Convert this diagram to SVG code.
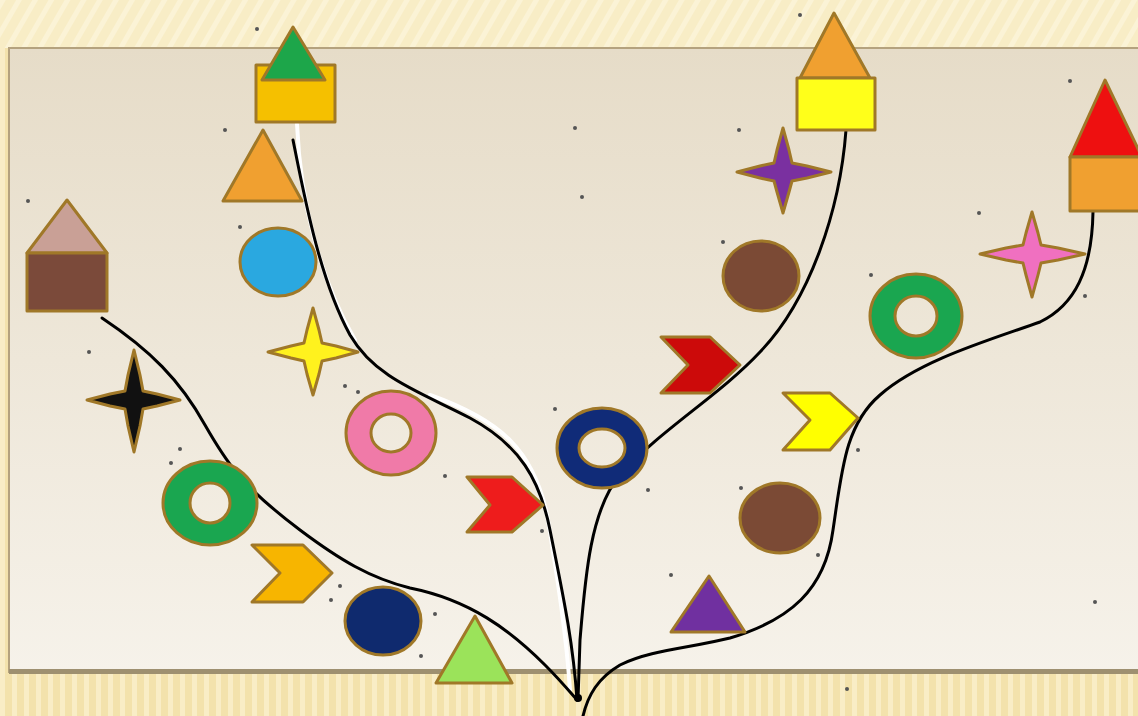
<svg xmlns="http://www.w3.org/2000/svg" width="1138" height="716" viewBox="0 0 1138 716">
<defs>
<pattern id="diag" width="14" height="14" patternUnits="userSpaceOnUse" patternTransform="rotate(30)">
<rect width="14" height="14" fill="#F8EDC6"/>
<rect width="5" height="14" fill="#FBF3D6"/>
</pattern>
<pattern id="vert" width="12" height="12" patternUnits="userSpaceOnUse">
<rect width="12" height="12" fill="#F3E2AC"/>
<rect width="5" height="12" fill="#F9EDC6"/>
</pattern>
<linearGradient id="panel" x1="0" y1="0" x2="0" y2="1">
<stop offset="0" stop-color="#E6DCC8"/>
<stop offset="1" stop-color="#F6F2EA"/>
</linearGradient>
<style>
.s{stroke:#A07828;stroke-width:3;stroke-linejoin:round}
.b{fill:none;stroke:#000;stroke-width:3;stroke-linecap:round}
.w{fill:none;stroke:#FFF;stroke-width:4;stroke-linecap:round}
.d{fill:#555}
</style>
</defs>
<rect width="1138" height="716" fill="url(#diag)"/>
<rect x="0" y="672" width="1138" height="44" fill="url(#vert)"/>
<rect x="0" y="48" width="9" height="628" fill="url(#vert)"/>
<rect x="9" y="48" width="1140" height="624" fill="url(#panel)" stroke="#B4A27E" stroke-width="2"/>
<rect x="9" y="669" width="1129" height="5" fill="#9E9070"/>

<g id="specks" class="d">
<circle cx="257" cy="29" r="2"/><circle cx="225" cy="130" r="2"/><circle cx="28" cy="201" r="2"/>
<circle cx="575" cy="128" r="2"/><circle cx="582" cy="197" r="2"/><circle cx="240" cy="227" r="2"/>
<circle cx="800" cy="15" r="2"/><circle cx="739" cy="130" r="2"/><circle cx="1070" cy="81" r="2"/>
<circle cx="979" cy="213" r="2"/><circle cx="1085" cy="296" r="2"/><circle cx="89" cy="352" r="2"/>
<circle cx="171" cy="463" r="2"/><circle cx="180" cy="449" r="2"/><circle cx="345" cy="386" r="2"/>
<circle cx="358" cy="392" r="2"/><circle cx="445" cy="476" r="2"/><circle cx="555" cy="409" r="2"/>
<circle cx="648" cy="490" r="2"/><circle cx="542" cy="531" r="2"/><circle cx="340" cy="586" r="2"/>
<circle cx="331" cy="600" r="2"/><circle cx="435" cy="614" r="2"/><circle cx="421" cy="656" r="2"/>
<circle cx="671" cy="575" r="2"/><circle cx="741" cy="488" r="2"/><circle cx="818" cy="555" r="2"/>
<circle cx="858" cy="450" r="2"/><circle cx="871" cy="275" r="2"/><circle cx="723" cy="242" r="2"/>
<circle cx="847" cy="689" r="2"/><circle cx="1095" cy="602" r="2"/>
</g>

<g id="connectors">
<path class="w" d="M297,124 C300,200 320,280 355,340"/>
<path class="w" d="M430,395 C500,420 535,450 548,520 C556,570 566,630 570,690"/>
<path class="b" d="M102,318 C150,350 180,380 205,425 C225,460 240,485 300,530 C340,560 370,578 410,588 C470,600 510,630 545,665 C560,680 570,692 577,700"/>
<path class="b" d="M293,140 C305,200 320,280 350,335 C375,378 420,392 470,418 C520,445 540,480 550,530 C562,590 573,640 577,700"/>
<path class="b" d="M846,130 C840,210 810,300 760,352 C720,395 660,430 620,475 C590,510 585,580 580,640 L578,700"/>
<path class="b" d="M1093,212 C1092,270 1075,305 1040,322 C990,340 920,360 880,395 C845,425 842,470 833,530 C825,590 790,620 730,638 C690,648 650,650 620,665 C598,678 588,695 583,716"/>
<circle cx="578" cy="698" r="4" fill="#000"/>
</g>

<g id="house-green">
<rect class="s" x="256" y="65" width="79" height="57" fill="#F5C000"/>
<polygon class="s" points="293,27 325,80 262,80" fill="#1DA64A"/>
</g>
<g id="house-brown">
<polygon class="s" points="67,200 107,253 27,253" fill="#C9A096"/>
<rect class="s" x="27" y="253" width="80" height="58" fill="#7B4A3A"/>
</g>
<g id="house-yellow">
<polygon class="s" points="834,13 870,78 800,78" fill="#F0A030"/>
<rect class="s" x="797" y="78" width="78" height="52" fill="#FFFF1A"/>
</g>
<g id="house-red">
<polygon class="s" points="1105,80 1142,157 1070,157" fill="#EE1010"/>
<rect class="s" x="1070" y="157" width="75" height="54" fill="#F0A030"/>
</g>

<g id="tri-orange"><polygon class="s" points="263,130 302,201 223,201" fill="#F0A030"/></g>
<g id="circle-blue"><ellipse class="s" cx="278" cy="262" rx="38" ry="34" fill="#2AA8E0"/></g>
<g id="star-yellow"><polygon class="s" points="268,352 291,346 304,343 307,330 313,308 319,330 322,343 336,346 358,352 336,358 322,361 319,374 313,395 307,374 304,361 291,358" fill="#FFF21E"/></g>
<g id="star-black"><polygon class="s" points="87,400 110,394 125,391 128,375 134,350 140,375 143,391 157,394 180,400 157,406 143,409 140,426 134,452 128,426 125,409 110,406" fill="#111"/></g>
<g id="ring-pink"><path class="s" fill-rule="evenodd" d="M346,433 a45,42 0 1,0 90,0 a45,42 0 1,0 -90,0 Z M371,433 a20,19 0 1,0 40,0 a20,19 0 1,0 -40,0 Z" fill="#F07AA8"/></g>
<g id="ring-green-left"><path class="s" fill-rule="evenodd" d="M163,503 a47,42 0 1,0 94,0 a47,42 0 1,0 -94,0 Z M190,503 a20,20 0 1,0 40,0 a20,20 0 1,0 -40,0 Z" fill="#1AA650"/></g>
<g id="chevron-gold"><polygon class="s" points="252,545 303,545 332,573 303,602 252,602 280,573" fill="#F7B500"/></g>
<g id="circle-navy"><ellipse class="s" cx="383" cy="621" rx="38" ry="34" fill="#0F2A6E"/></g>
<g id="tri-lightgreen"><polygon class="s" points="475,616 512,683 436,683" fill="#9BE35A"/></g>
<g id="chevron-red"><polygon class="s" points="467,477 512,477 543,505 512,532 467,532 490,505" fill="#EE1C1C"/></g>
<g id="ring-navy"><path class="s" fill-rule="evenodd" d="M557,448 a45,40 0 1,0 90,0 a45,40 0 1,0 -90,0 Z M579,448 a23,19 0 1,0 46,0 a23,19 0 1,0 -46,0 Z" fill="#102B78"/></g>
<g id="chevron-darkred"><polygon class="s" points="661,337 710,337 740,365 710,393 661,393 688,365" fill="#CC0A0A"/></g>
<g id="circle-brown-top"><ellipse class="s" cx="761" cy="276" rx="38" ry="35" fill="#7B4A35"/></g>
<g id="star-purple"><polygon class="s" points="737,172 760,166 774,163 777,150 783,128 789,150 792,163 807,166 831,172 807,178 792,181 789,192 783,213 777,192 774,181 760,178" fill="#7A30A0"/></g>
<g id="star-pink"><polygon class="s" points="980,254 1006,248 1023,245 1026,233 1032,212 1038,233 1041,245 1058,248 1085,254 1058,260 1041,263 1038,275 1032,297 1026,275 1023,263 1006,260" fill="#F070C0"/></g>
<g id="ring-green-right"><path class="s" fill-rule="evenodd" d="M870,316 a46,42 0 1,0 92,0 a46,42 0 1,0 -92,0 Z M895,316 a21,20 0 1,0 42,0 a21,20 0 1,0 -42,0 Z" fill="#1AA650"/></g>
<g id="chevron-yellow"><polygon class="s" points="783,393 830,393 858,418 830,450 783,450 810,420" fill="#FFFF00"/></g>
<g id="circle-brown-bottom"><ellipse class="s" cx="780" cy="518" rx="40" ry="35" fill="#7B4A35"/></g>
<g id="tri-purple"><polygon class="s" points="709,576 745,632 671,632" fill="#7030A0"/></g>
</svg>
